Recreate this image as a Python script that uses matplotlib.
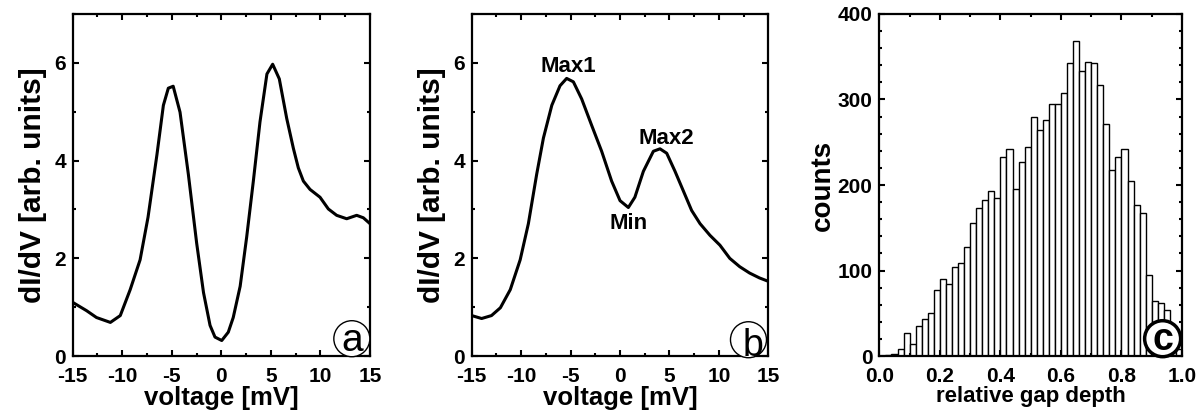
import matplotlib
matplotlib.use("Agg")
import matplotlib.pyplot as plt
import numpy as np
from matplotlib.ticker import MultipleLocator, FormatStrFormatter
from matplotlib.patches import Ellipse

plt.rcParams['font.family'] = ['Liberation Sans', 'DejaVu Sans']
plt.rcParams['font.weight'] = 'bold'
plt.rcParams['axes.labelweight'] = 'bold'
plt.rcParams['axes.unicode_minus'] = False

# --- panel a: dI/dV spectrum (two coherence peaks)
volt_a = [-15, -13.6, -12.6, -11.2, -10.2, -9.2, -8.2, -7.4, -6.5, -5.85, -5.35, -4.86,
          -4.17, -3.33, -2.49, -1.8, -1.14, -0.64, 0.04, 0.7, 1.2, 1.9, 2.56, 3.23, 3.9,
          4.6, 5.18, 5.85, 6.6, 7.27, 7.77, 8.28, 8.95, 9.96, 10.8, 11.64, 12.65, 13.66,
          14.33, 15]
didv_a = [1.10, 0.93, 0.79, 0.69, 0.83, 1.36, 1.97, 2.84, 4.12, 5.13, 5.48, 5.52,
          4.99, 3.72, 2.31, 1.30, 0.63, 0.39, 0.32, 0.49, 0.79, 1.43, 2.44, 3.58, 4.79,
          5.77, 5.97, 5.67, 4.86, 4.25, 3.85, 3.58, 3.41, 3.25, 3.01, 2.88, 2.81, 2.88,
          2.83, 2.71]

# --- panel b: asymmetric spectrum
volt_b = [-15, -14, -13, -12.1, -11.1, -10.1, -9.27, -8.43, -7.75, -6.9, -6.07, -5.4,
          -4.72, -3.88, -2.87, -1.86, -0.85, 0, 0.84, 1.5, 2.36, 3.37, 4.04, 4.72, 5.56,
          6.4, 7.24, 8.09, 9.1, 10.1, 11.1, 12.1, 13.1, 14.1, 15]
didv_b = [0.83, 0.77, 0.83, 0.99, 1.36, 1.97, 2.71, 3.72, 4.46, 5.13, 5.53, 5.68,
          5.61, 5.26, 4.72, 4.19, 3.58, 3.18, 3.04, 3.25, 3.78, 4.19, 4.24, 4.15, 3.78,
          3.38, 2.98, 2.71, 2.47, 2.27, 2.0, 1.83, 1.70, 1.60, 1.53]
peak_labels = ['Max1', 'Max2', 'Min']
peak_v = [-5.23, 4.65, 0.84]
peak_y = [5.93, 4.46, 2.71]

# --- panel c: histogram of relative gap depth, bins of 0.02
bin_left = np.arange(0, 1.0, 0.02)
counts = [0, 1, 2, 8, 27, 14, 35, 43, 51, 77,
          90, 84, 104, 109, 128, 156, 173, 182, 193, 185,
          233, 242, 195, 227, 245, 279, 264, 276, 295, 295,
          307, 342, 368, 333, 344, 342, 317, 271, 218, 233,
          242, 205, 177, 167, 95, 64, 62, 54, 25, 8]

fig = plt.figure(figsize=(12, 4.2), dpi=100)
ax_a = fig.add_axes([0.0606, 0.152, 0.2477, 0.815])
ax_b = fig.add_axes([0.3931, 0.152, 0.2472, 0.815])
ax_c = fig.add_axes([0.7328, 0.152, 0.2522, 0.815])

def style(ax):
    for s in ax.spines.values():
        s.set_linewidth(1.6)
    ax.tick_params(which='both', direction='in', top=True, right=True, width=1.5,
                   labelsize=15)
    ax.tick_params(axis='x', pad=7.5)
    ax.tick_params(axis='y', pad=5)
    ax.tick_params(which='major', length=4)
    ax.tick_params(which='minor', length=2.5)

def circle_label(ax, letter, cx, cy, tx, ty, size, weight, lw):
    # circle is drawn in pixel size, so convert radius to axes fraction
    bb = ax.get_position()
    w_px = bb.width * fig.get_figwidth() * fig.dpi
    h_px = bb.height * fig.get_figheight() * fig.dpi
    r = 18
    ax.add_patch(Ellipse((cx, cy), 2 * r / w_px, 2 * r / h_px, transform=ax.transAxes,
                         facecolor='white', edgecolor='black', lw=lw, zorder=5,
                         clip_on=False))
    ax.text(tx, ty, letter, transform=ax.transAxes, ha='center', va='baseline',
            fontsize=size, fontweight=weight, zorder=6)

for ax, v, d in [(ax_a, volt_a, didv_a), (ax_b, volt_b, didv_b)]:
    ax.plot(v, d, color='black', lw=2.2, solid_joinstyle='round')
    ax.set_xlim(-15, 15)
    ax.set_ylim(0, 7)
    ax.xaxis.set_major_locator(MultipleLocator(5))
    ax.xaxis.set_minor_locator(MultipleLocator(2.5))
    ax.yaxis.set_major_locator(MultipleLocator(2))
    ax.yaxis.set_minor_locator(MultipleLocator(1))
    ax.set_xlabel('voltage [mV]', fontsize=18.5, labelpad=0)
    ax.set_ylabel('dI/dV [arb. units]', fontsize=21.5, labelpad=5)
    style(ax)

for lab, v, y in zip(peak_labels, peak_v, peak_y):
    ax_b.text(v, y, lab, ha='center', va='center', fontsize=16)

ax_c.bar(bin_left, counts, width=0.02, align='edge', facecolor='white',
         edgecolor='black', linewidth=1.0)
ax_c.set_xlim(0, 1)
ax_c.set_ylim(0, 400)
ax_c.xaxis.set_major_locator(MultipleLocator(0.2))
ax_c.xaxis.set_minor_locator(MultipleLocator(0.1))
ax_c.yaxis.set_major_locator(MultipleLocator(100))
ax_c.yaxis.set_minor_locator(MultipleLocator(20))
ax_c.xaxis.set_major_formatter(FormatStrFormatter('%.1f'))
ax_c.set_xlabel('relative gap depth', fontsize=16, labelpad=0)
ax_c.set_ylabel('counts', fontsize=20, labelpad=1)
style(ax_c)

circle_label(ax_a, 'a', 0.939, 0.051, 0.939, 0.014, 28, 'normal', 1.0)
circle_label(ax_b, 'b', 0.933, 0.048, 0.948, 0.000, 27, 'normal', 1.0)
circle_label(ax_c, 'c', 0.936, 0.051, 0.936, 0.018, 27, 'bold', 2.5)

fig.savefig('out.png', dpi=100)
